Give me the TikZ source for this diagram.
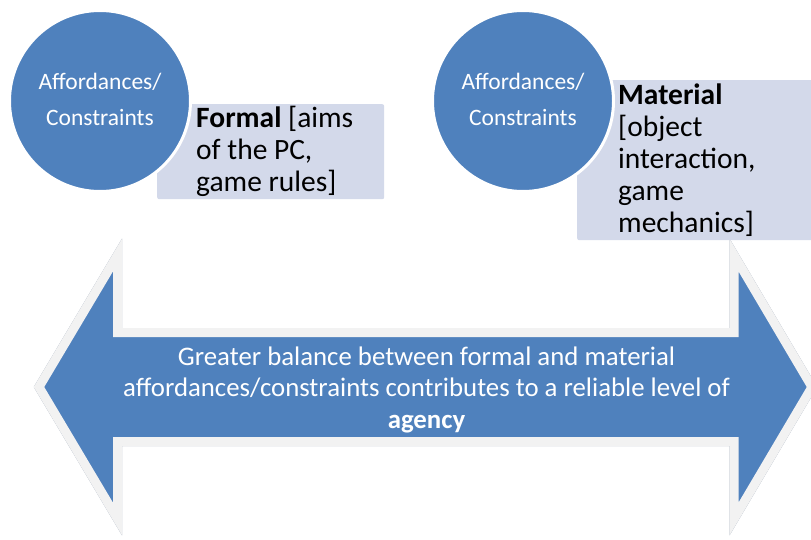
\documentclass[tikz,border=0pt]{standalone}
\usepackage{fontspec}
\setmainfont{Carlito}
\definecolor{blueA}{HTML}{4F81BD}
\definecolor{boxfill}{HTML}{D3D9EA}
\definecolor{edgegray}{HTML}{F2F2F2}
\definecolor{shadowc}{HTML}{8C9AAD}
\begin{document}
\begin{tikzpicture}[x=1pt,y=-1pt,
  circ/.style={circle, fill=blueA, draw=white, line width=3pt, minimum size=181pt, inner sep=0pt},
  infobox/.style={rectangle, rounded corners=2pt, fill=boxfill, inner sep=0pt, anchor=north west},
  ctext/.style={text=white, align=center, inner sep=0pt, anchor=base, font=\fontsize{23.5}{36}\selectfont},
  btext/.style={text=black, align=left, inner sep=0pt, anchor=base west, font=\fontsize{29.5}{32}\selectfont},
  atext/.style={text=white, align=center, inner sep=0pt, anchor=base, font=\fontsize{26.8}{31.5}\selectfont},
  arrowbody/.style={fill=blueA, draw=edgegray, line width=9pt, line join=miter},
  arrowshadow/.style={fill=shadowc, draw=shadowc, line width=9pt, line join=miter}]
\useasboundingbox (0,0) rectangle (811,540);
\clip (0,0) rectangle (811,540);
% arrow outline points
\coordinate (ltip) at (39,387);
\coordinate (lht) at (117.5,255);
\coordinate (lst) at (117.5,332.5);
\coordinate (rst) at (734,332.5);
\coordinate (rht) at (734,255);
\coordinate (rtip) at (812,387);
\coordinate (rhb) at (734,519);
\coordinate (rsb) at (734,441.5);
\coordinate (lsb) at (117.5,441.5);
\coordinate (lhb) at (117.5,519);
% shadow
\path[arrowshadow, shift={(3,3)}] (ltip) -- (lht) -- (lst) -- (rst) -- (rht) -- (rtip) -- (rhb) -- (rsb) -- (lsb) -- (lhb) -- cycle;
% arrow
\path[arrowbody] (ltip) -- (lht) -- (lst) -- (rst) -- (rht) -- (rtip) -- (rhb) -- (rsb) -- (lsb) -- (lhb) -- cycle;
\node[atext] (agency) at (426.5,428) {Greater balance between formal and material\\affordances/constraints contributes to a reliable level of\\\textbf{agency}};
% boxes
\node[infobox, minimum width=227pt, minimum height=95pt] (formalbox) at (157,104) {};
\node[infobox, minimum width=240pt, minimum height=160pt] (materialbox) at (577,80) {};
% circles
\node[circ] (leftcirc) at (100,101) {};
\node[circ] (rightcirc) at (523,101) {};
\node[ctext] (lefttext) at (100,126) {Affordances/\\Constraints};
\node[ctext] (righttext) at (523,126) {Affordances/\\Constraints};
% box texts
\node[btext] (formaltext) at (196,192) {\textbf{Formal} [aims\\of the PC,\\game rules]};
\node[btext] (materialtext) at (618,233) {\textbf{Material}\\{[}object\\interaction,\\game\\mechanics]};
\end{tikzpicture}
\end{document}
